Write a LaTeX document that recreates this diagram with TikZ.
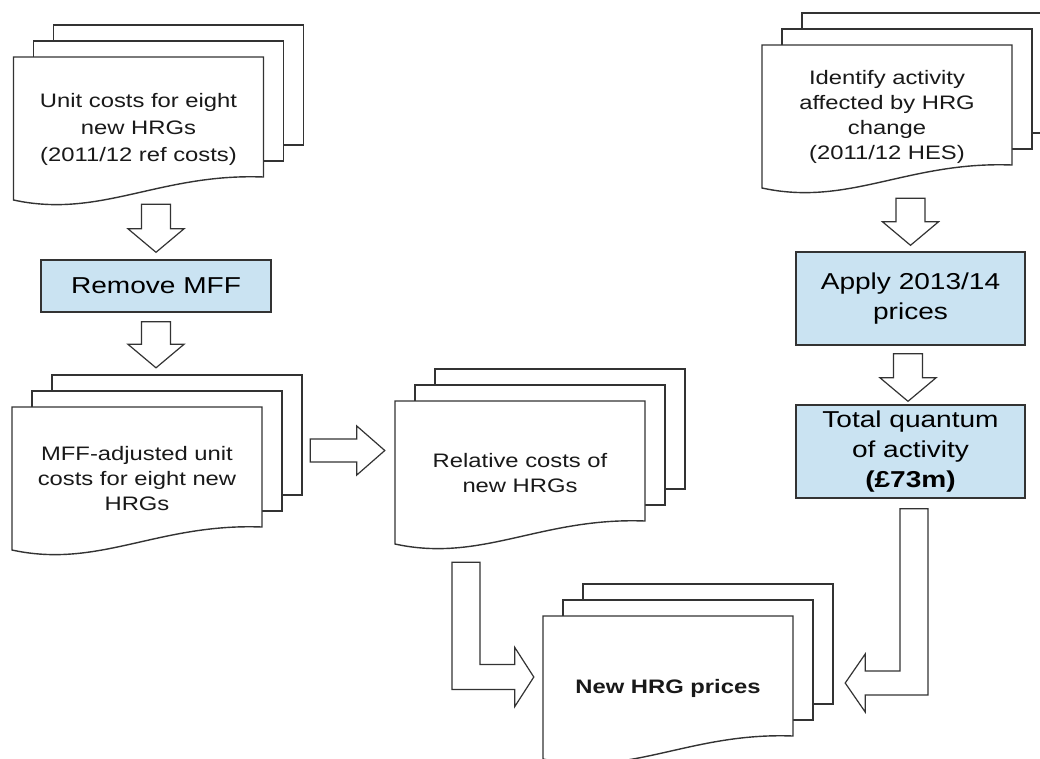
\documentclass[tikz,border=0pt]{standalone}
\usepackage{fontspec}
\usetikzlibrary{calc}
\newfontfamily\arialw{Liberation Sans}[FakeStretch=1.22]
\definecolor{boxblue}{RGB}{202,227,242}

% stack of three pages, front one with a wavy bottom
\newcommand{\docstack}[3]{%
	\coordinate (#1-c) at #2;
	\draw[page] ($(#1-c)+(-85,-104)$) rectangle +(250,120);
	\draw[page] ($(#1-c)+(-105,-88)$) rectangle +(250,120);
	\draw[page] ($(#1-c)+(-125,-72)$) -- ++(250,0) -- ++(0,120)
		.. controls +(-104,-4) and +(87,19) .. ($(#1-c)+(-125,71)$) -- cycle;
	\node[doctext] (#1) at (#1-c) {#3};
}
% hollow block arrows
\newcommand{\blockdown}[2]{%
	\draw[blockarrow] let \p1=#1, \p2=#2 in
		(\x2-14.5pt,\y1) -- (\x2+14.5pt,\y1) -- (\x2+14.5pt,\y2+23.5pt) -- (\x2+28pt,\y2+23.5pt)
		-- (\p2) -- (\x2-28pt,\y2+23.5pt) -- (\x2-14.5pt,\y2+23.5pt) -- cycle;
}
\newcommand{\blockright}[2]{%
	\draw[blockarrow] let \p1=#1, \p2=#2 in
		(\x1,\y2+11.5pt) -- (\x2-28pt,\y2+11.5pt) -- (\x2-28pt,\y2+24.5pt) -- (\p2)
		-- (\x2-28pt,\y2-24.5pt) -- (\x2-28pt,\y2-11.5pt) -- (\x1,\y2-11.5pt) -- cycle;
}

\begin{document}
\begin{tikzpicture}[x=1pt, y=-1pt,
		page/.style={draw=black!80, fill=white, line width=1.4pt, line join=miter},
		doctext/.style={minimum width=250, minimum height=144, inner sep=0pt, align=center,
			text=black!90, font=\arialw\fontsize{19.5}{25}\selectfont},
		procbox/.style={draw=black!80, fill=boxblue, line width=1.4pt, inner sep=0pt, align=center,
			minimum width=229, minimum height=93, font=\arialw\fontsize{23}{30}\selectfont},
		blockarrow/.style={draw=black!80, fill=white, line width=1.2pt, line join=miter}]
	\useasboundingbox (0,0) rectangle (1040,758);
	\clip (0,0) rectangle (1040,758);
	\fill[white] (0,0) rectangle (1040,758);
	%
	% left column
	\docstack{unit}{(138.5,129)}{Unit costs for eight\\[2pt]new HRGs\\[2pt](2011/12 ref costs)}
	\node[procbox, minimum width=230, minimum height=52] (remove) at (156,286) {Remove MFF};
	\docstack{mffadj}{(137,479)}{MFF-adjusted unit\\costs for eight new\\HRGs}
	\blockdown{($(unit.south)+(0,3)$)}{($(remove.north)+(0,-7)$)}
	\blockdown{($(remove.south)+(0,9)$)}{($(remove.south |- mffadj.north)+(0,-39)$)}
	%
	% middle
	\docstack{relative}{(520,473)}{Relative costs of\\new HRGs}
	\blockright{($(mffadj.east)+(48,0)$)}{($(relative.west)+(-10,-22.5)$)}
	%
	% right column
	\docstack{identify}{(887,117)}{Identify activity\\affected by HRG\\change\\(2011/12 HES)}
	\node[procbox] (apply) at (910.5,298.5) {Apply 2013/14\\prices};
	\node[procbox] (total) at (910.5,451.5) {Total quantum\\of activity\\\textbf{(£73m)}};
	\blockdown{($(identify.south)+(0,9)$)}{($(apply.north)+(0,-6)$)}
	\blockdown{($(apply.south)+(0,8)$)}{($(total.north)+(-2.5,-3)$)}
	%
	% result
	\docstack{newprice}{(668,688)}{\textbf{New HRG prices}}
	\draw[blockarrow] let \p1=($(relative.south)+(-54,17)$), \p2=($(newprice.west)+(-9,-11)$) in
		(\x1-14pt,\y1) -- (\x1+14pt,\y1) -- (\x1+14pt,\y2+12.5pt) -- (\x2-19pt,\y2+12.5pt)
		-- (\x2-19pt,\y2+29.5pt) -- (\p2) -- (\x2-19pt,\y2-29.5pt) -- (\x2-19pt,\y2-12.5pt)
		-- (\x1-14pt,\y2-12.5pt) -- cycle;
	\draw[blockarrow] let \p1=($(total.south)+(3.5,10)$), \p2=($(newprice.east)+(52,-5)$) in
		(\x1-14pt,\y1) -- (\x1+14pt,\y1) -- (\x1+14pt,\y2-12pt) -- (\x2+20pt,\y2-12pt)
		-- (\x2+20pt,\y2-29pt) -- (\p2) -- (\x2+20pt,\y2+29pt) -- (\x2+20pt,\y2+12pt)
		-- (\x1-14pt,\y2+12pt) -- cycle;
\end{tikzpicture}
\end{document}
